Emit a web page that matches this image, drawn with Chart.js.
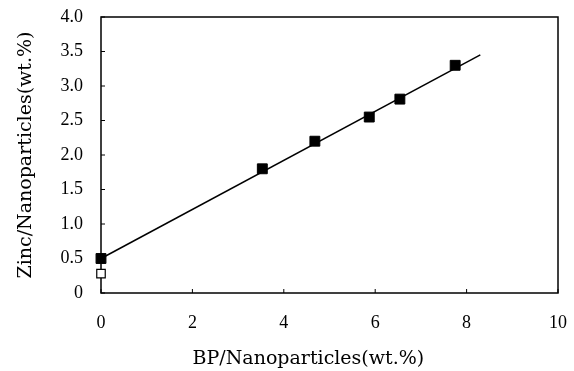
<!DOCTYPE html>
<html>
<head>
<meta charset="utf-8">
<script src="https://cdn.jsdelivr.net/npm/chart.js@4.4.0/dist/chart.umd.min.js"></script>
<style>
  body { margin: 0; background: #fff; }
  #wrap { width: 574px; height: 371px; }
</style>
</head>
<body>
<div id="wrap"><canvas id="grafico"></canvas></div>
<script>
// measured points (filled squares)
var bpValues = [0, 3.53, 4.68, 5.87, 6.54, 7.75];
var zincValues = [0.5, 1.8, 2.2, 2.55, 2.81, 3.3];

// open square
var openBp = [0];
var openZinc = [0.28];

// fitted line ends
var fitBp = [0, 8.3];
var fitZinc = [0.5, 3.45];

var xTicks = [0, 2, 4, 6, 8, 10];
var yTicks = [0, 0.5, 1.0, 1.5, 2.0, 2.5, 3.0, 3.5, 4.0];

function toPoints(xs, ys) {
  var pts = [];
  for (var i = 0; i < xs.length; i++) pts.push({ x: xs[i], y: ys[i] });
  return pts;
}

// frame + small inward ticks
var framePlugin = {
  id: "frame",
  beforeDatasetsDraw: function (chart) {
    var ctx = chart.ctx;
    var a = chart.chartArea;
    var xs = chart.scales.x;
    var ys = chart.scales.y;
    ctx.save();
    ctx.strokeStyle = "#000";
    ctx.lineWidth = 1.5;
    ctx.strokeRect(a.left, a.top, a.right - a.left, a.bottom - a.top);
    ctx.lineWidth = 1;
    ctx.beginPath();
    xTicks.forEach(function (v) {
      var px = xs.getPixelForValue(v);
      ctx.moveTo(px, a.bottom);
      ctx.lineTo(px, a.bottom - 4);
    });
    yTicks.forEach(function (v) {
      var py = ys.getPixelForValue(v);
      ctx.moveTo(a.left, py);
      ctx.lineTo(a.left + 4, py);
    });
    ctx.stroke();
    ctx.restore();
  }
};

var fonte = { family: "'Liberation Serif', serif", size: 18 };
var fonteTitulo = { family: "'DejaVu Serif', serif", size: 19 };

var ctx = document.getElementById("grafico").getContext("2d");
var myChart = new Chart(ctx, {
  type: "scatter",
  data: {
    datasets: [
      {
        type: "line",
        data: toPoints(fitBp, fitZinc),
        borderColor: "#000",
        borderWidth: 1.5,
        pointRadius: 0,
        fill: false,
        clip: false
      },
      {
        data: toPoints(bpValues, zincValues),
        pointStyle: "rect",
        pointRadius: 7,
        backgroundColor: "#000",
        borderColor: "#000",
        borderWidth: 1,
        clip: false
      },
      {
        data: toPoints(openBp, openZinc),
        pointStyle: "rect",
        pointRadius: 6,
        backgroundColor: "#fff",
        borderColor: "#000",
        borderWidth: 1.2,
        clip: false
      }
    ]
  },
  options: {
    responsive: true,
    maintainAspectRatio: false,
    animation: false,
    layout: { padding: { left: 15, top: 17, right: 16, bottom: 0 } },
    plugins: { legend: { display: false }, tooltip: { enabled: false } },
    scales: {
      x: {
        type: "linear",
        min: 0,
        max: 10,
        afterBuildTicks: function (s) { s.ticks = xTicks.map(function (v) { return { value: v }; }); },
        afterFit: function (s) { s.height = 78; s.paddingLeft = 0; s.paddingRight = 0; },
        ticks: { font: fonte, color: "#000", padding: 11 },
        grid: { display: false },
        border: { display: false },
        title: { display: true, text: "BP/Nanoparticles(wt.%)       ", font: fonteTitulo, color: "#000", padding: { top: 16, bottom: 1 } }
      },
      y: {
        type: "linear",
        min: 0,
        max: 4,
        afterBuildTicks: function (s) { s.ticks = yTicks.map(function (v) { return { value: v }; }); },
        afterFit: function (s) { s.width = 86; s.paddingTop = 0; s.paddingBottom = 0; },
        ticks: {
          font: fonte,
          color: "#000",
          padding: 10,
          callback: function (v) { return v === 0 ? "0" : v.toFixed(1); }
        },
        grid: { display: false },
        border: { display: false },
        title: { display: true, text: "Zinc/Nanoparticles(wt.%)", font: fonteTitulo, color: "#000", padding: { top: 0, bottom: 24 } }
      }
    }
  },
  plugins: [framePlugin]
});
</script>
</body>
</html>
